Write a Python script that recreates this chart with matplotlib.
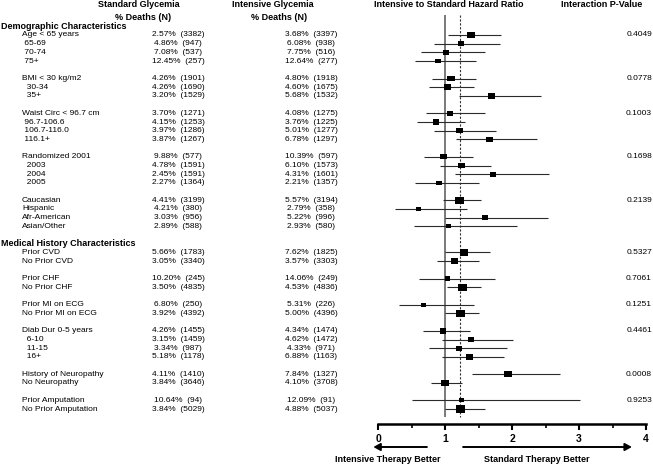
import numpy as np
import matplotlib
matplotlib.use("Agg")
import matplotlib.pyplot as plt
from matplotlib.transforms import blended_transform_factory

plt.rcParams['font.family'] = ['Liberation Sans', 'DejaVu Sans']

# ---------------- data ----------------
sections = ["Demographic Characteristics", "Medical History Characteristics"]
group_sizes = [[4, 3, 4, 4, 4], [2, 2, 2, 4, 2, 2]]

labels = ["Age < 65 years", " 65-69", " 70-74", " 75+",
          "BMI < 30 kg/m2", "  30-34", "  35+",
          "Waist Circ < 96.7 cm", " 96.7-106.6", " 106.7-116.0", " 116.1+",
          "Randomized 2001", "  2003", "  2004", "  2005",
          "Caucasian", "Hispanic", "Afr-American", "Asian/Other",
          "Prior CVD", "No Prior CVD",
          "Prior CHF", "No Prior CHF",
          "Prior MI on ECG", "No Prior MI on ECG",
          "Diab Dur 0-5 years", "  6-10", "  11-15", "  16+",
          "History of Neuropathy", "No Neuropathy",
          "Prior Amputation", "No Prior Amputation"]

std_pct = [2.57, 4.86, 7.08, 12.45,
           4.26, 4.26, 3.20,
           3.70, 4.15, 3.97, 3.87,
           9.88, 4.78, 2.45, 2.27,
           4.41, 4.21, 3.03, 2.89,
           5.66, 3.05,
           10.20, 3.50,
           6.80, 3.92,
           4.26, 3.15, 3.34, 5.18,
           4.11, 3.84,
           10.64, 3.84]
std_n = [3382, 947, 537, 257,
         1901, 1690, 1529,
         1271, 1253, 1286, 1267,
         577, 1591, 1591, 1364,
         3199, 380, 956, 588,
         1783, 3340,
         245, 4835,
         250, 4392,
         1455, 1459, 987, 1178,
         1410, 3646,
         94, 5029]

int_pct = [3.68, 6.08, 7.75, 12.64,
           4.80, 4.60, 5.68,
           4.08, 3.76, 5.01, 6.78,
           10.39, 6.10, 4.31, 2.21,
           5.57, 2.79, 5.22, 2.93,
           7.62, 3.57,
           14.06, 4.53,
           5.31, 5.00,
           4.34, 4.62, 4.33, 6.88,
           7.84, 4.10,
           12.09, 4.88]
int_n = [3397, 938, 516, 277,
         1918, 1675, 1532,
         1275, 1225, 1277, 1297,
         597, 1573, 1601, 1357,
         3194, 358, 996, 580,
         1825, 3303,
         249, 4836,
         226, 4396,
         1474, 1472, 971, 1163,
         1327, 3708,
         91, 5037]

hr = [1.39, 1.24, 1.01, 0.90,
      1.09, 1.04, 1.69,
      1.07, 0.87, 1.22, 1.66,
      0.98, 1.25, 1.72, 0.91,
      1.22, 0.60, 1.59, 1.05,
      1.29, 1.14,
      1.04, 1.26,
      0.68, 1.23,
      0.97, 1.39, 1.21, 1.36,
      1.94, 1.00,
      1.25, 1.23]
hr_lo = [1.05, 0.84, 0.64, 0.55,
         0.81, 0.76, 1.21,
         0.72, 0.58, 0.84, 1.16,
         0.69, 0.92, 1.15, 0.55,
         0.97, 0.26, 1.00, 0.54,
         1.00, 0.88,
         0.61, 1.03,
         0.31, 1.00,
         0.67, 0.96, 0.76, 0.96,
         1.41, 0.79,
         0.51, 1.00]
hr_hi = [1.83, 1.82, 1.59, 1.47,
         1.47, 1.44, 2.43,
         1.59, 1.30, 1.76, 2.37,
         1.42, 1.69, 2.55, 1.51,
         1.53, 1.33, 2.53, 2.08,
         1.67, 1.50,
         1.75, 1.54,
         1.43, 1.51,
         1.38, 2.02, 1.92, 1.88,
         2.71, 1.26,
         3.01, 1.60]

p_values = ["0.4049", "0.0778", "0.1003", "0.1698", "0.2139",
            "0.5327", "0.7061", "0.1251", "0.4461", "0.0008", "0.9253"]

overall_hr = 1.22
x_ticks = [0, 1, 2, 3, 4]

# ---------------- layout ----------------
W, H = 653, 467
fig = plt.figure(figsize=(W / 100, H / 100), dpi=100)

ROW0, ROWH = 35.0, 8.7
AX_L, AX_R, AX_B = 378, 646, 424


def py2row(py):
    return (py - ROW0) / ROWH


ax = fig.add_axes([AX_L / W, 1 - AX_B / H, (AX_R - AX_L) / W, AX_B / H])
ax.set_xlim(0, 4)
ax.set_ylim(py2row(AX_B), py2row(0))
ax.patch.set_alpha(0)

# row positions
rows, header_rows, group_first = [], [], []
r = -1
for sizes in group_sizes:
    header_rows.append(r)
    r += 1
    for g in sizes:
        group_first.append(r)
        rows.extend(range(r, r + g))
        r += g + 1
rows = np.array(rows, dtype=float)

# reference lines
ax.vlines(1, py2row(15), py2row(417), color='#7a7a7a', lw=1.4, zorder=1)
ax.vlines(overall_hr, py2row(15), py2row(417), color='#333333', lw=0.8,
          linestyles=(0, (2, 1.5)), zorder=1)

# CIs
ax.hlines(rows, hr_lo, hr_hi, color='#2b2b2b', lw=0.8, zorder=2)

# boxes
deaths = np.array(std_pct) / 100 * np.array(std_n) + np.array(int_pct) / 100 * np.array(int_n)
box_px = 3.3 + 0.30 * np.sqrt(deaths)
rect = [(-1, -0.82), (1, -0.82), (1, 0.82), (-1, 0.82), (-1, -0.82)]
ax.scatter(hr, rows, s=(box_px * 0.72) ** 2, marker=rect, color='black',
           edgecolors='none', zorder=3)

# axis styling
for side in ['top', 'left', 'right']:
    ax.spines[side].set_visible(False)
ax.spines['bottom'].set_linewidth(1.8)
ax.set_xticks(x_ticks)
ax.set_xticks(np.arange(0.5, 4, 1), minor=True)
ax.set_yticks([])
ax.tick_params(axis='x', which='major', direction='out', length=4, width=1.5,
               pad=3, labelsize=7.5)
ax.tick_params(axis='x', which='minor', direction='out', length=3, width=1.2)
for t in ax.get_xticklabels():
    t.set_fontweight('bold')

# arrows
arow = py2row(447)
ax.annotate('', xy=(-0.07, arow), xytext=(0.73, arow), annotation_clip=False,
            arrowprops=dict(arrowstyle='-|>,head_length=0.4,head_width=0.22',
                            lw=1.4, color='black', mutation_scale=10,
                            shrinkA=0, shrinkB=0))
ax.annotate('', xy=(3.79, arow), xytext=(1.27, arow), annotation_clip=False,
            arrowprops=dict(arrowstyle='-|>,head_length=0.4,head_width=0.22',
                            lw=1.4, color='black', mutation_scale=10,
                            shrinkA=0, shrinkB=0))


def fy(py):
    return 1 - py / H


fig.text(388 / W, fy(459), "Intensive Therapy Better", ha='center', va='center',
         fontsize=6.5, fontweight='bold')
fig.text(537 / W, fy(459), "Standard Therapy Better", ha='center', va='center',
         fontsize=6.5, fontweight='bold')

# headers
hdr = dict(ha='center', va='center', fontsize=6.5, fontweight='bold')
fig.text(139 / W, fy(4.5), "Standard Glycemia", **hdr)
fig.text(143 / W, fy(18), "% Deaths (N)", **hdr)
fig.text(273 / W, fy(4.5), "Intensive Glycemia", **hdr)
fig.text(279 / W, fy(18), "% Deaths (N)", **hdr)
fig.text(449 / W, fy(4.5), "Intensive to Standard Hazard Ratio", **hdr)
fig.text(602 / W, fy(4.5), "Interaction P-Value", **hdr)

# table text
tr = blended_transform_factory(fig.transFigure, ax.transData)
for name, hr_row in zip(sections, header_rows):
    ax.text(1 / W, hr_row, name, transform=tr, ha='left', va='center',
            fontsize=6.5, fontweight='bold', clip_on=False)

for i, y in enumerate(rows):
    ax.text(22 / W, y, labels[i], transform=tr, ha='left', va='center',
            fontsize=6, clip_on=False)
    ax.text(178 / W, y, f"{std_pct[i]:.2f}%  ({std_n[i]})", transform=tr,
            ha='center', va='center', fontsize=6, clip_on=False)
    ax.text(311 / W, y, f"{int_pct[i]:.2f}%  ({int_n[i]})", transform=tr,
            ha='center', va='center', fontsize=6, clip_on=False)

for p, y in zip(p_values, group_first):
    ax.text(652 / W, y, p, transform=tr, ha='right', va='center',
            fontsize=6, clip_on=False)

fig.savefig("out.png", dpi=100)
